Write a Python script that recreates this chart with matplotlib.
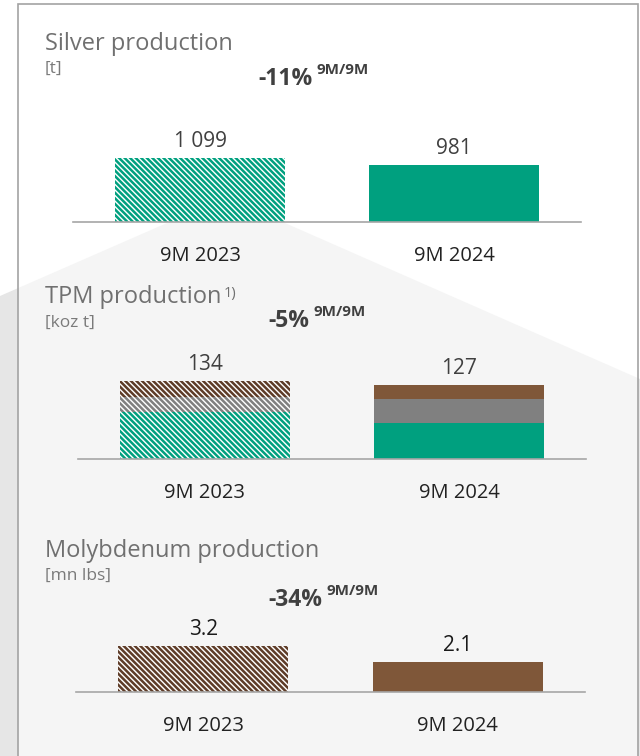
import matplotlib
matplotlib.use("Agg")
import matplotlib.pyplot as plt
from matplotlib.patches import Polygon, Rectangle

plt.rcParams['font.family'] = ['Open Sans', 'DejaVu Sans']
plt.rcParams['hatch.linewidth'] = 1.8

W, H = 640, 756

periods = ["9M 2023", "9M 2024"]

silver = [1099, 981]

# TPM split into three metals (bottom -> top)
tpm_green = [81, 62]
tpm_grey = [26, 41]
tpm_brown = [27, 24]
tpm_total = [134, 127]

moly = [3.2, 2.1]

changes = ["-11%", "-5%", "-34%"]

GREEN = "#00a07f"
GREY = "#808080"
BROWN = "#7f5739"
BROWN_DARK = "#5e3c28"
HATCH = "\\" * 6


def fx(x):
    return x / W


def fy(y):
    return 1 - y / H


fig = plt.figure(figsize=(W / 100, H / 100), dpi=100)
fig.patch.set_facecolor("white")

# grey "zoom" wedge behind the card, opening from the silver 2023 bar
wedge = [(167, 223), (285, 223), (640, 379), (640, 756), (0, 756), (0, 296)]
fig.patches.append(Polygon([(fx(x), fy(y)) for x, y in wedge], closed=True,
                           transform=fig.transFigure, facecolor="#e6e6e6",
                           edgecolor="none", zorder=0))
# card: translucent white with a grey frame
fig.patches.append(Rectangle((fx(18), fy(800)), fx(638) - fx(18), fy(4) - fy(800),
                             transform=fig.transFigure, facecolor="white",
                             alpha=0.62, edgecolor="none", zorder=1))
fig.patches.append(Rectangle((fx(18), fy(800)), fx(638) - fx(18), fy(4) - fy(800),
                             transform=fig.transFigure, facecolor="none",
                             edgecolor="#a3a3a3", linewidth=1.2, zorder=2))


def make_axes(x0, x1, axis_y, vmax, bar_px, height=110):
    ax = fig.add_axes([fx(x0), fy(axis_y), fx(x1) - fx(x0), height / H])
    ax.set_zorder(5)
    ax.set_xlim(-0.5, 1.5)
    ax.set_ylim(0, vmax * height / bar_px)
    ax.patch.set_alpha(0)
    for s in ["top", "left", "right"]:
        ax.spines[s].set_visible(False)
    ax.spines["bottom"].set_color("#a6a6a6")
    ax.spines["bottom"].set_linewidth(1.2)
    ax.set_yticks([])
    ax.set_xticks([0, 1])
    ax.set_xticklabels(periods, fontsize=14.5, color="#222222")
    ax.tick_params(axis="x", length=0, pad=17)
    return ax


def value_labels(ax, totals, texts, color):
    for i, (v, t) in enumerate(zip(totals, texts)):
        ax.annotate(t, (i, v), xytext=(0, 4.5), textcoords="offset points",
                    ha="center", va="bottom", fontsize=15, color=color)


def headline(ax, title, unit, title_y, unit_y, pct, pct_x, pct_y, note=None):
    t = fig.text(fx(45), fy(title_y), title, fontsize=17, color="#707070",
                 va="baseline", zorder=6)
    if note:
        ax.annotate(note, xy=(1, 1), xycoords=t, xytext=(2, -1),
                    textcoords="offset points", fontsize=10.5,
                    color="#707070", va="top", annotation_clip=False)
    fig.text(fx(45), fy(unit_y), unit, fontsize=12.5, color="#7a7a7a",
             va="baseline", zorder=6)
    p = fig.text(fx(pct_x), fy(pct_y), pct, fontsize=16.5, fontweight="bold",
                 color="#404040", va="baseline", zorder=6)
    ax.annotate("9M/9M", xy=(1, 1), xycoords=p, xytext=(3, 3),
                textcoords="offset points", fontsize=11, fontweight="bold",
                color="#404040", va="top", annotation_clip=False)


def fmt(v):
    return f"{v:,}".replace(",", " ")


# Silver
ax1 = make_axes(73, 581, 222, max(silver), 64)
ax1.bar([0], silver[:1], width=0.667, color="white", edgecolor=GREEN,
        hatch=HATCH, linewidth=0)
ax1.bar([1], silver[1:], width=0.667, color=GREEN, linewidth=0)
value_labels(ax1, silver, [fmt(v) for v in silver], "#404040")
headline(ax1, "Silver production", "[t]", 50, 73, changes[0], 258, 85)

# TPM
ax2 = make_axes(78, 586, 459, max(tpm_total), 78)
bottom = [0, 0]
for vals, col, dark in [(tpm_green, GREEN, GREEN), (tpm_grey, GREY, GREY),
                        (tpm_brown, BROWN, BROWN_DARK)]:
    ax2.bar([0], vals[:1], bottom=bottom[:1], width=0.667, color="white",
            edgecolor=dark, hatch=HATCH, linewidth=0)
    ax2.bar([1], vals[1:], bottom=bottom[1:], width=0.667, color=col,
            linewidth=0)
    bottom = [b + v for b, v in zip(bottom, vals)]
value_labels(ax2, tpm_total, [fmt(v) for v in tpm_total], "#404040")
headline(ax2, "TPM production", "[koz t]", 303, 327, changes[1], 268, 327,
         note="1)")

# Molybdenum
ax3 = make_axes(76, 585, 692, max(moly), 46)
ax3.bar([0], moly[:1], width=0.667, color="white", edgecolor=BROWN_DARK,
        hatch=HATCH, linewidth=0)
ax3.bar([1], moly[1:], width=0.667, color=BROWN, linewidth=0)
value_labels(ax3, moly, [f"{v:.1f}" for v in moly], "#1a1a1a")
headline(ax3, "Molybdenum production", "[mn lbs]", 557, 580, changes[2], 268, 606)

fig.savefig("out.png", dpi=100)
